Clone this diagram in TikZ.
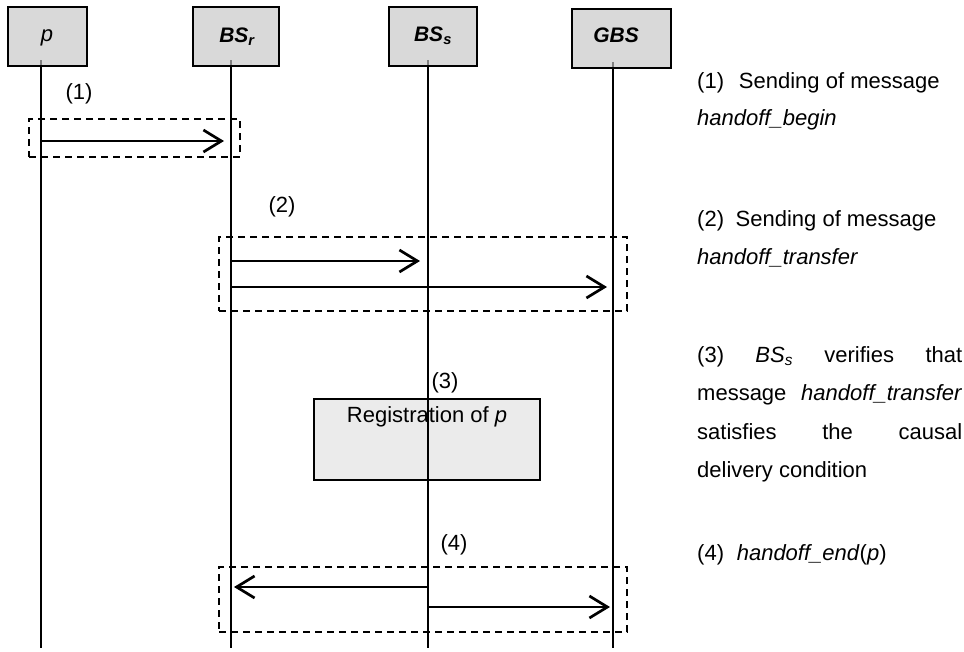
\documentclass[tikz,border=0pt]{standalone}
\usepackage{fontspec}
\setmainfont{Liberation Sans}
\usetikzlibrary{arrows.meta}
\definecolor{hdrgray}{HTML}{D9D9D9}
\definecolor{reggray}{HTML}{EBEBEB}
\begin{document}
\begin{tikzpicture}[x=1pt,y=-1pt,
  every node/.style={font=\fontsize{22}{26}\selectfont, inner sep=0pt},
  hdr/.style={draw, line width=2.4pt, fill=hdrgray, minimum height=59pt, font=\fontsize{21}{25}\selectfont\bfseries\itshape},
  life/.style={line width=2.2pt},
  msg/.style={line width=2.7pt, -{Straight Barb[length=18pt,width=22pt,line width=2.7pt]}},
  grp/.style={draw, dash pattern=on 7pt off 5pt, line width=2.2pt},
  lbl/.style={anchor=center},
  note/.style={anchor=base west}
]
\useasboundingbox (0,0) rectangle (964,651);

% header boxes
\node[hdr, minimum width=79pt] (P) at (47.5,36.5) {};
\node[hdr, minimum width=86pt] (BR) at (236,36.5) {};
\node[hdr, minimum width=88pt] (BS) at (433,36.5) {};
\node[hdr, minimum width=99pt] (G) at (621.5,38.5) {};
\node[font=\fontsize{22}{26}\selectfont\itshape] (Pl) at (47,38) {p};
\node[font=\fontsize{21}{25}\selectfont\bfseries\itshape] (BRl) at (237,37) {BS\textsubscript{r}};
\node[font=\fontsize{21}{25}\selectfont\bfseries\itshape] (BSl) at (433,36) {BS\textsubscript{s}};
\node[font=\fontsize{21}{25}\selectfont\bfseries\itshape] (Gl) at (616,35) {GBS};

% lifeline coordinates
\coordinate (pT) at (41,60);  \coordinate (pB) at (41,648);
\coordinate (rT) at (231,60);   \coordinate (rB) at (231,648);
\coordinate (sT) at (428,60);   \coordinate (sB) at (428,648);
\coordinate (gT) at (613,62);   \coordinate (gB) at (613,648);

% registration box (behind lifeline)
\node[draw, line width=2.2pt, fill=reggray, minimum width=226pt, minimum height=81pt] (Reg) at (427,439.5) {};
\node (Regl) at (427,417) {Registration of \textit{p}};

% lifelines
\draw[life] (pT) -- (pB);
\draw[life] (rT) -- (rB);
\draw[life] (sT) -- (sB);
\draw[life] (gT) -- (gB);
\draw[line width=2.2pt, gray] (41,60) -- (41,65);
\draw[line width=2.2pt, gray] (231,60) -- (231,65);
\draw[line width=2.2pt, gray] (428,60) -- (428,65);
\draw[line width=2.2pt, gray] (613,62) -- (613,67);

% group boxes
\node[grp, minimum width=211pt, minimum height=38pt] (D1) at (134.5,138) {};
\node[grp, minimum width=408pt, minimum height=74pt] (D2) at (423,274) {};
\node[grp, minimum width=408pt, minimum height=65pt] (D4) at (423,599.5) {};

% message coordinates
\coordinate (m1a) at (41,141); \coordinate (m1b) at (231,141);
\coordinate (m2a) at (231,261);  \coordinate (m2b) at (428,261);
\coordinate (m3a) at (230,287);  \coordinate (m3b) at (613,287);
\coordinate (m4a) at (428,587);  \coordinate (m4b) at (231,587);
\coordinate (m5a) at (428,607);  \coordinate (m5b) at (613,607);

\draw[msg, shorten >=7pt] (m1a) -- (m1b);
\draw[msg, shorten >=8pt] (m2a) -- (m2b);
\draw[msg, shorten >=6pt] (m3a) -- (m3b);
\draw[msg, shorten >=3pt] (m4a) -- (m4b);
\draw[msg, shorten >=3pt] (m5a) -- (m5b);

% step labels
\node[lbl] (L1) at (79,94) {(1)};
\node[lbl] (L2) at (282,207) {(2)};
\node[lbl] (L3) at (445,383) {(3)};
\node[lbl] (L4) at (454,545) {(4)};

% notes
\node[note] (N1a) at (697,88) {(1)\hspace{0.4em} Sending of message};
\node[note] (N1b) at (697,125) {\textit{handoff\_begin}};
\node[note] (N2a) at (697,226) {(2)\hspace{0.25em} Sending of message};
\node[note] (N2b) at (697,264) {\textit{handoff\_transfer}};
\node[note] (N3a) at (697,362) {\makebox[265pt][l]{(3)\hfill\textit{BS\textsubscript{s}}\hfill verifies\hfill that}};
\node[note] (N3b) at (697,400) {\makebox[265pt][l]{message\hfill\textit{handoff\_transfer}}};
\node[note] (N3c) at (697,439) {\makebox[265pt][l]{satisfies\hfill the\hfill causal}};
\node[note] (N3d) at (697,477) {delivery condition};
\node[note] (N4) at (697,560) {(4)\hspace{0.3em} \textit{handoff\_end}(\textit{p})};
\end{tikzpicture}
\end{document}
